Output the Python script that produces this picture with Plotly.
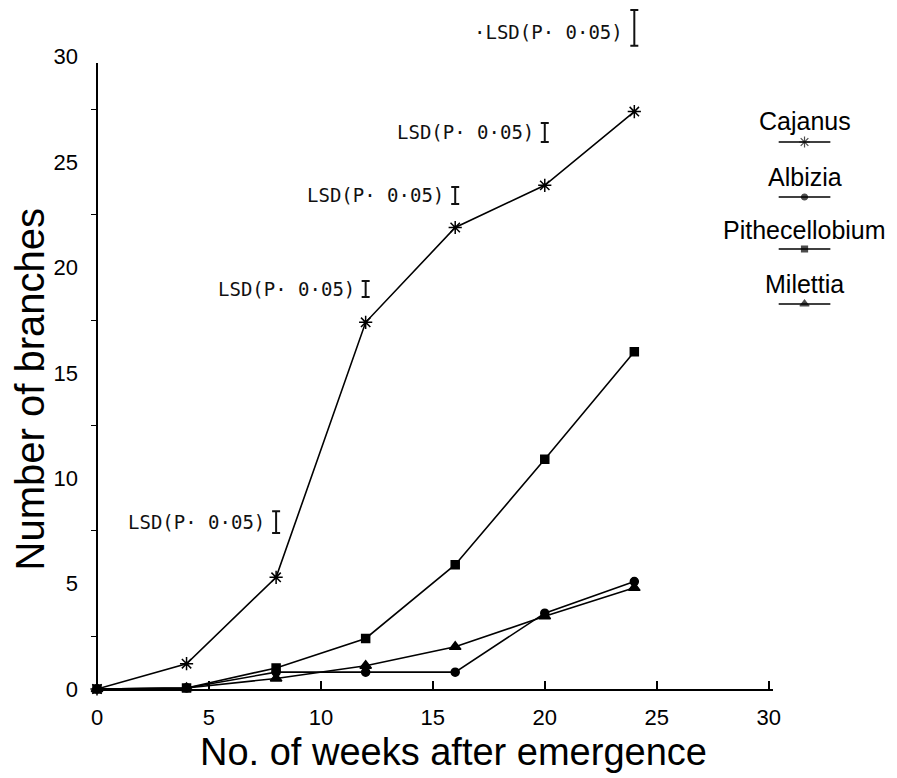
import plotly.graph_objects as go

# ---------------- data ----------------
weeks = [0, 4, 8, 12, 16, 20, 24]
cajanus = [0, 1.2, 5.3, 17.4, 21.9, 23.9, 27.4]
albizia = [0, 0.05, 0.8, 0.8, 0.8, 3.6, 5.1]
pithecellobium = [0, 0.05, 1.0, 2.4, 5.9, 10.9, 16.0]
milettia = [0, 0.05, 0.5, 1.1, 2.0, 3.45, 4.8]

series_names = ["Cajanus", "Albizia", "Pithecellobium", "Milettia"]
series_values = [cajanus, albizia, pithecellobium, milettia]
series_symbols = ["asterisk-open", "circle", "square", "triangle-up"]
series_sizes = [11, 8, 8, 10]

lsd_weeks = [8, 12, 16, 20, 24]
lsd_center = [7.92, 18.98, 23.42, 26.41, 31.37]
lsd_half = [0.52, 0.38, 0.40, 0.45, 0.85]
lsd_labels = ["LSD(P· 0·05)", "LSD(P· 0·05)", "LSD(P· 0·05)", "LSD(P· 0·05)", "·LSD(P· 0·05)"]

x_ticks = [0, 5, 10, 15, 20, 25, 30]
y_ticks = [0, 5, 10, 15, 20, 25, 30]
y_minor = [2.5, 7.5, 12.5, 17.5, 22.5, 27.5]

# ---------------- layout constants ----------------
W, H = 897, 778
ML, MR, MT, MB = 97, 5, 2, 89
PW = W - ML - MR
PH = H - MT - MB
X_MAX = 30.2
x_dom_end = (X_MAX * 22.53) / PW


def px_to_paper(px, py):
    return (px - ML) / PW, (H - MB - py) / PH


FONT = "Liberation Sans, Arial, Helvetica, sans-serif"
MONO = "DejaVu Sans Mono, monospace"

fig = go.Figure()

for name, vals, sym, sz in zip(series_names, series_values, series_symbols, series_sizes):
    fig.add_trace(go.Scatter(
        x=weeks, y=vals, mode="lines+markers", name=name,
        line=dict(color="black", width=1.6),
        marker=dict(symbol=sym, size=sz, color="black",
                    line=dict(color="black", width=1.5)),
        cliponaxis=False, showlegend=False,
    ))

# LSD bars as error bars
fig.add_trace(go.Scatter(
    x=lsd_weeks, y=lsd_center, mode="markers",
    marker=dict(size=1, color="rgba(0,0,0,0)"),
    error_y=dict(type="data", array=lsd_half, symmetric=True,
                 color="#111", thickness=2, width=4),
    showlegend=False, cliponaxis=False, hoverinfo="skip",
))

for xw, yc, lab in zip(lsd_weeks, lsd_center, lsd_labels):
    fig.add_annotation(x=xw, y=yc, xref="x", yref="y", text=lab,
                       showarrow=False, xanchor="right", yanchor="middle",
                       xshift=-9, yshift=(-4 if lab.startswith("·") else 0),
                       font=dict(family=MONO, size=19, color="#111"))

# y axis line (only up to 30)
fig.add_shape(type="line", xref="paper", yref="y", x0=0, x1=0, y0=0, y1=29.7,
              line=dict(color="black", width=2))

# ---------------- custom legend on pixel-scaled overlay axes ----------------
leg_text_y = [121, 177, 230, 284]
leg_line_y = [142, 197, 249, 304]
leg_x0, leg_x1, leg_xc = 783, 835, 809
for name, sym, sz, ty, ly in zip(series_names, series_symbols, series_sizes, leg_text_y, leg_line_y):
    fig.add_trace(go.Scatter(
        x=[leg_x0, leg_xc, leg_x1], y=[ly, ly, ly], mode="lines+markers",
        xaxis="x2", yaxis="y2",
        line=dict(color="black", width=1.5),
        marker=dict(symbol=sym, size=[0, sz - 2, 0], color="black",
                    line=dict(color="black", width=1.2)),
        showlegend=False, hoverinfo="skip", cliponaxis=False,
    ))
    fig.add_annotation(x=leg_xc, y=ty, xref="x2", yref="y2", text=name,
                       showarrow=False, xanchor="center", yanchor="middle",
                       font=dict(family=FONT, size=25, color="black"))

# axis titles (paper coordinates)
tx, ty_ = px_to_paper(456, 752)
fig.add_annotation(x=tx, y=ty_, xref="paper", yref="paper", text="No. of weeks after emergence",
                   showarrow=False, xanchor="center", yanchor="middle",
                   font=dict(family=FONT, size=38, color="black"))
tx, ty_ = px_to_paper(30, 389)
fig.add_annotation(x=tx, y=ty_, xref="paper", yref="paper", text="Number of branches",
                   showarrow=False, xanchor="center", yanchor="middle", textangle=-90,
                   font=dict(family=FONT, size=40, color="black"))

fig.update_layout(
    width=W, height=H,
    margin=dict(l=ML, r=MR, t=MT, b=MB),
    paper_bgcolor="white", plot_bgcolor="rgba(0,0,0,0)",
    showlegend=False,
    xaxis=dict(domain=[0, x_dom_end], range=[0, X_MAX], tickvals=x_ticks,
               showgrid=False, zeroline=False, showline=True,
               linecolor="black", linewidth=2,
               ticks="inside", ticklen=8, tickwidth=1.5, tickcolor="black",
               ticklabelstandoff=8,
               tickfont=dict(family=FONT, size=22, color="black")),
    yaxis=dict(range=[0, 32.6], tickvals=y_ticks,
               showgrid=False, zeroline=False, showline=False,
               ticks="", ticklabelstandoff=18,
               minor=dict(tickvals=y_minor, ticks="outside", ticklen=5,
                          tickwidth=1, tickcolor="black"),
               tickfont=dict(family=FONT, size=22, color="black")),
    xaxis2=dict(domain=[0, 1], range=[ML, W - MR], visible=False,
                anchor="y2", fixedrange=True),
    yaxis2=dict(domain=[0, 1], range=[H - MB, MT], visible=False,
                anchor="x2", fixedrange=True),
)

fig.write_html("out.html")
